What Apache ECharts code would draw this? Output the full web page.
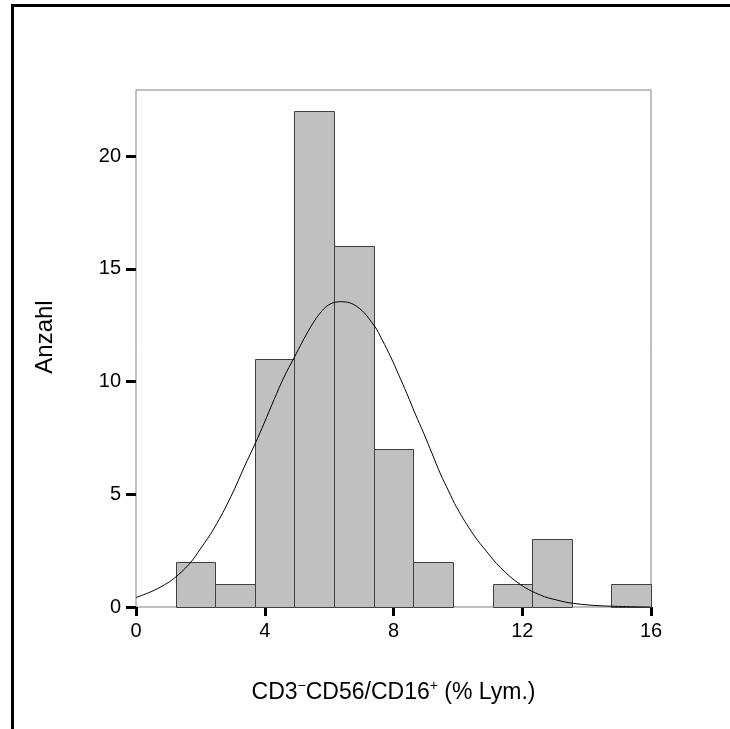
<!DOCTYPE html>
<html>
<head>
<meta charset="utf-8">
<script src="https://cdn.jsdelivr.net/npm/echarts@6/dist/echarts.min.js"></script>
<style>html,body{margin:0;padding:0;background:#fff}#c{width:730px;height:729px}</style>
</head>
<body>
<div id="c"></div>
<script>
// Histogram bins (bin width 16/13)
var binStart = [1.23, 2.46, 3.69, 4.92, 6.15, 7.38, 8.62, 9.85, 11.08, 12.31, 13.54, 14.77];
var binEnd   = [2.46, 3.69, 4.92, 6.15, 7.38, 8.62, 9.85, 11.08, 12.31, 13.54, 14.77, 16.0];
var counts   = [2, 1, 11, 22, 16, 7, 2, 0, 1, 3, 0, 1];
// Normal curve
var curveX = [0, 0.47, 0.88, 1.19, 1.65, 2.02, 2.43, 2.95, 3.36, 3.72, 3.98, 4.29, 4.6, 4.91, 5.43, 5.79, 6.05, 6.36, 6.87, 7.39, 7.65, 7.91, 8.16, 8.42, 8.68, 8.94, 9.2, 9.46, 9.71, 9.97, 10.49, 10.9, 11.32, 11.94, 12.56, 13.07, 13.59, 14.5, 16];
var curveY = [0.42, 0.68, 0.98, 1.28, 1.9, 2.62, 3.5, 4.9, 6.2, 7.3, 8.15, 9.2, 10.2, 11.05, 12.43, 13.15, 13.45, 13.54, 13.32, 12.5, 11.84, 11.1, 10.3, 9.45, 8.55, 7.7, 6.8, 5.9, 5.15, 4.4, 3.2, 2.45, 1.75, 1.0, 0.53, 0.31, 0.16, 0.05, 0.0];
var xTicks = [0, 4, 8, 12, 16];
var yTicks = [0, 5, 10, 15, 20];

var histData = binStart.map(function (s, i) { return [s, binEnd[i], counts[i]]; });
var curveData = curveX.map(function (x, i) { return [x, curveY[i]]; });

var chart = echarts.init(document.getElementById('c'), null, {renderer: 'canvas'});
var font = 'Arial, "Liberation Sans", sans-serif';
chart.setOption({
  animation: false,
  backgroundColor: '#fff',
  grid: {left: 136, top: 90, right: 79, bottom: 122, show: true, borderColor: '#808080', borderWidth: 1, backgroundColor: 'transparent'},
  xAxis: {
    type: 'value', min: 0, max: 16, interval: 4,
    axisLine: {show: false},
    splitLine: {show: false},
    axisTick: {show: true, inside: false, length: 9, lineStyle: {color: '#000', width: 3}, customValues: xTicks},
    axisLabel: {color: '#000', fontSize: 20, fontFamily: font, margin: 14, customValues: xTicks},
    name: '{a|CD3}{s|\u2212}{a|CD56/CD16}{s|+}{a| (% Lym.)}',
    nameLocation: 'middle', nameGap: 72,
    nameTextStyle: {
      rich: {
        a: {fontSize: 23, fontFamily: font, color: '#000', lineHeight: 28},
        s: {fontSize: 14, fontFamily: font, color: '#000', verticalAlign: 'top', lineHeight: 28, padding: [0, 0, 10, 0]}
      }
    }
  },
  yAxis: {
    type: 'value', min: 0, max: 22.93, interval: 5,
    axisLine: {show: false},
    splitLine: {show: false},
    axisTick: {show: true, inside: false, length: 10, lineStyle: {color: '#000', width: 3}, customValues: yTicks},
    axisLabel: {color: '#000', fontSize: 20, fontFamily: font, margin: 15, customValues: yTicks},
    name: ''
  },
  graphic: [{
    type: 'polyline', silent: true,
    shape: {points: [[12.5, 729], [12.5, 5.5], [730, 5.5]]},
    style: {stroke: '#000', lineWidth: 3, fill: null}
  }, {
    type: 'text', silent: true,
    x: 45, y: 337, rotation: Math.PI / 2,
    style: {text: 'Anzahl', font: '24px ' + font, fill: '#000', align: 'center', verticalAlign: 'middle'}
  }],
  series: [{
    type: 'custom',
    data: histData,
    encode: {x: [0, 1], y: 2},
    renderItem: function (params, api) {
      var p0 = api.coord([api.value(0), 0]);
      var p1 = api.coord([api.value(1), api.value(2)]);
      if (api.value(2) <= 0) return null;
      return {
        type: 'rect',
        shape: {x: Math.round(p0[0]) + 0.5, y: Math.round(p1[1]) + 0.5, width: Math.round(p1[0]) - Math.round(p0[0]), height: Math.round(p0[1]) - Math.round(p1[1])},
        style: {fill: '#c0c0c0', stroke: '#404040', lineWidth: 1}
      };
    },
    z: 2
  }, {
    type: 'line',
    data: curveData,
    smooth: 0.4,
    showSymbol: false,
    lineStyle: {color: '#000', width: 1},
    z: 3
  }]
});
</script>
</body>
</html>
